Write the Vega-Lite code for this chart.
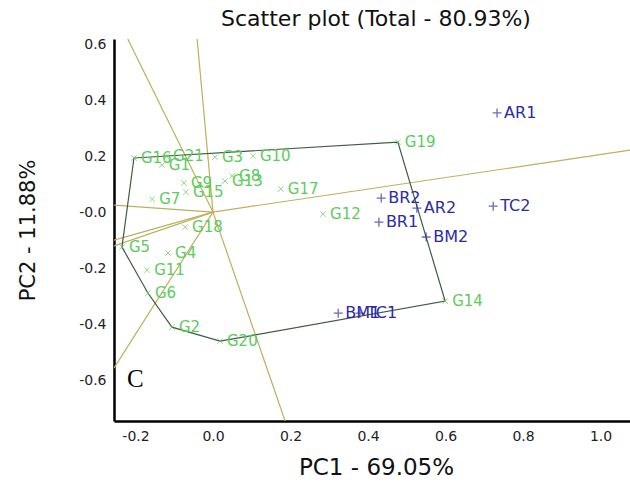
{
  "$schema": "https://vega.github.io/schema/vega-lite/v6.json",
  "autosize": {"type": "none"},
  "padding": {"left": 114, "top": 39, "right": 0, "bottom": 64},
  "width": 516,
  "height": 382,
  "background": "white",
  "config": {"view": {"stroke": null}},
  "title": {"text": "Scatter plot (Total - 80.93%)", "font": "DejaVu Sans", "fontSize": 22, "fontWeight": "normal", "color": "#111111", "anchor": "middle", "baseline": "alphabetic", "offset": 7, "dx": 4, "dy": 18},
  "datasets": {
    "points": [
      {"name": "AR1", "pc1": 0.733, "pc2": 0.354, "type": "env"},
      {"name": "TC2", "pc1": 0.723, "pc2": 0.021, "type": "env"},
      {"name": "AR2", "pc1": 0.526, "pc2": 0.014, "type": "env"},
      {"name": "BR2", "pc1": 0.434, "pc2": 0.05, "type": "env"},
      {"name": "BR1", "pc1": 0.428, "pc2": -0.036, "type": "env"},
      {"name": "BM2", "pc1": 0.55, "pc2": -0.089, "type": "env"},
      {"name": "BM1", "pc1": 0.323, "pc2": -0.361, "type": "env"},
      {"name": "TC1", "pc1": 0.379, "pc2": -0.361, "type": "env"},
      {"name": "G16", "pc1": -0.204, "pc2": 0.193, "type": "gen"},
      {"name": "G21", "pc1": -0.121, "pc2": 0.199, "type": "gen"},
      {"name": "G1", "pc1": -0.132, "pc2": 0.168, "type": "gen"},
      {"name": "G3", "pc1": 0.005, "pc2": 0.196, "type": "gen"},
      {"name": "G10", "pc1": 0.103, "pc2": 0.2, "type": "gen"},
      {"name": "G8", "pc1": 0.049, "pc2": 0.129, "type": "gen"},
      {"name": "G13", "pc1": 0.031, "pc2": 0.111, "type": "gen"},
      {"name": "G9", "pc1": -0.075, "pc2": 0.104, "type": "gen"},
      {"name": "G15", "pc1": -0.07, "pc2": 0.071, "type": "gen"},
      {"name": "G7", "pc1": -0.157, "pc2": 0.046, "type": "gen"},
      {"name": "G17", "pc1": 0.175, "pc2": 0.082, "type": "gen"},
      {"name": "G19", "pc1": 0.477, "pc2": 0.25, "type": "gen"},
      {"name": "G12", "pc1": 0.284, "pc2": -0.007, "type": "gen"},
      {"name": "G18", "pc1": -0.072, "pc2": -0.054, "type": "gen"},
      {"name": "G5", "pc1": -0.235, "pc2": -0.125, "type": "gen"},
      {"name": "G4", "pc1": -0.116, "pc2": -0.146, "type": "gen"},
      {"name": "G11", "pc1": -0.17, "pc2": -0.207, "type": "gen"},
      {"name": "G6", "pc1": -0.168, "pc2": -0.289, "type": "gen"},
      {"name": "G2", "pc1": -0.106, "pc2": -0.411, "type": "gen"},
      {"name": "G20", "pc1": 0.018, "pc2": -0.461, "type": "gen"},
      {"name": "G14", "pc1": 0.599, "pc2": -0.318, "type": "gen"}
    ],
    "hull": [
      {"order": 1, "name": "G16", "pc1": -0.204, "pc2": 0.193},
      {"order": 2, "name": "G19", "pc1": 0.477, "pc2": 0.25},
      {"order": 3, "name": "G14", "pc1": 0.599, "pc2": -0.318},
      {"order": 4, "name": "G20", "pc1": 0.018, "pc2": -0.461},
      {"order": 5, "name": "G2", "pc1": -0.106, "pc2": -0.411},
      {"order": 6, "name": "G6", "pc1": -0.168, "pc2": -0.289},
      {"order": 7, "name": "G5", "pc1": -0.235, "pc2": -0.125},
      {"order": 8, "name": "G16", "pc1": -0.204, "pc2": 0.193}
    ],
    "rays": [
      {"ray": "a", "ex": -0.041, "ey": 0.618},
      {"ray": "b", "ex": -0.22, "ey": 0.618},
      {"ray": "c", "ex": -0.2555, "ey": 0.025},
      {"ray": "d", "ex": 1.076, "ey": 0.221},
      {"ray": "e", "ex": -0.2555, "ey": -0.1},
      {"ray": "f", "ex": -0.2555, "ey": -0.121},
      {"ray": "g", "ex": -0.2555, "ey": -0.557},
      {"ray": "h", "ex": 0.186, "ey": -0.746}
    ],
    "annot": [{"label": "C", "pc1": -0.222, "pc2": -0.595}]
  },
  "layer": [
    {
      "data": {"name": "rays"},
      "mark": {"type": "rule", "color": "#bdb05c", "strokeWidth": 1.2, "clip": true},
      "encoding": {
        "x": {"field": "ex", "type": "quantitative",
          "scale": {"domain": [-0.2555, 1.076], "nice": false, "zero": false},
          "axis": {"orient": "bottom", "values": [-0.2, 0, 0.2, 0.4, 0.6, 0.8, 1.0], "ticks": false, "grid": false,
            "domainColor": "#000000", "domainWidth": 2.5, "labelFont": "DejaVu Sans", "labelFontSize": 14, "labelColor": "#222222",
            "labelPadding": 8, "labelFlush": false,
            "labelExpr": "datum.value < 0 ? '-' + format(-datum.value, '.1f') : format(datum.value, '.1f')",
            "titleFont": "DejaVu Sans", "titleFontSize": 23, "titleFontWeight": "normal", "titleColor": "#111111",
            "titleX": 262, "titleY": 35, "titleBaseline": "top"},
          "title": "PC1 - 69.05%"},
        "y": {"field": "ey", "type": "quantitative",
          "scale": {"domain": [-0.746, 0.618], "nice": false, "zero": false},
          "axis": {"orient": "left", "values": [-0.6, -0.4, -0.2, 0, 0.2, 0.4, 0.6], "ticks": false, "grid": false,
            "domainColor": "#000000", "domainWidth": 2.5, "labelFont": "DejaVu Sans", "labelFontSize": 14, "labelColor": "#222222",
            "labelPadding": 8, "labelFlush": false,
            "labelExpr": "datum.value < 0 ? '-' + format(-datum.value, '.1f') : (datum.value == 0 ? '-0.0' : format(datum.value, '.1f'))",
            "titleFont": "DejaVu Sans", "titleFontSize": 21, "titleFontWeight": "normal", "titleColor": "#111111",
            "titleX": -76, "titleY": 191, "titleAngle": -90},
          "title": "PC2 - 11.88%"},
        "x2": {"datum": 0},
        "y2": {"datum": 0}
      }
    },
    {
      "mark": {"type": "rule", "color": "#555555", "strokeWidth": 1, "strokeDash": [2, 2]},
      "encoding": {"x": {"datum": 0, "type": "quantitative", "title": "PC1 - 69.05%"}}
    },
    {
      "mark": {"type": "rule", "color": "#555555", "strokeWidth": 1, "strokeDash": [2, 2]},
      "encoding": {"y": {"datum": 0, "type": "quantitative", "title": "PC2 - 11.88%"}}
    },
    {
      "mark": {"type": "rule", "color": "#000000", "strokeWidth": 2},
      "encoding": {"y": {"datum": 0.618, "type": "quantitative", "title": "PC2 - 11.88%"}}
    },
    {
      "data": {"name": "hull"},
      "mark": {"type": "line", "color": "#3f5a45", "strokeWidth": 1.2},
      "encoding": {
        "x": {"field": "pc1", "type": "quantitative", "title": "PC1 - 69.05%"},
        "y": {"field": "pc2", "type": "quantitative", "title": "PC2 - 11.88%"},
        "order": {"field": "order", "type": "quantitative"}
      }
    },
    {
      "data": {"name": "points"},
      "transform": [{"filter": "datum.type == 'gen'"}],
      "layer": [
        {
          "mark": {"type": "point", "shape": "M-1,-1L1,1M-1,1L1,-1", "filled": false, "size": 30, "strokeWidth": 1, "color": "#5ccc5c"},
          "encoding": {
            "x": {"field": "pc1", "type": "quantitative", "title": "PC1 - 69.05%"},
            "y": {"field": "pc2", "type": "quantitative", "title": "PC2 - 11.88%"}
          }
        },
        {
          "mark": {"type": "text", "align": "left", "baseline": "middle", "dx": 7, "font": "DejaVu Sans", "fontSize": 15, "color": "#5ccc5c"},
          "encoding": {
            "x": {"field": "pc1", "type": "quantitative", "title": "PC1 - 69.05%"},
            "y": {"field": "pc2", "type": "quantitative", "title": "PC2 - 11.88%"},
            "text": {"field": "name"}
          }
        }
      ]
    },
    {
      "data": {"name": "points"},
      "transform": [{"filter": "datum.type == 'env'"}],
      "layer": [
        {
          "mark": {"type": "point", "shape": "M-1,0L1,0M0,-1L0,1", "filled": false, "size": 81, "strokeWidth": 1.3, "color": "#2b2ba8"},
          "encoding": {
            "x": {"field": "pc1", "type": "quantitative", "title": "PC1 - 69.05%"},
            "y": {"field": "pc2", "type": "quantitative", "title": "PC2 - 11.88%"}
          }
        },
        {
          "mark": {"type": "text", "align": "left", "baseline": "middle", "dx": 7, "font": "DejaVu Sans", "fontSize": 16, "color": "#2b2ba8"},
          "encoding": {
            "x": {"field": "pc1", "type": "quantitative", "title": "PC1 - 69.05%"},
            "y": {"field": "pc2", "type": "quantitative", "title": "PC2 - 11.88%"},
            "text": {"field": "name"}
          }
        }
      ]
    },
    {
      "data": {"name": "annot"},
      "mark": {"type": "text", "align": "left", "baseline": "middle", "font": "Liberation Serif", "fontSize": 25, "color": "#000000"},
      "encoding": {
        "x": {"field": "pc1", "type": "quantitative", "title": "PC1 - 69.05%"},
        "y": {"field": "pc2", "type": "quantitative", "title": "PC2 - 11.88%"},
        "text": {"field": "label"}
      }
    }
  ]
}
